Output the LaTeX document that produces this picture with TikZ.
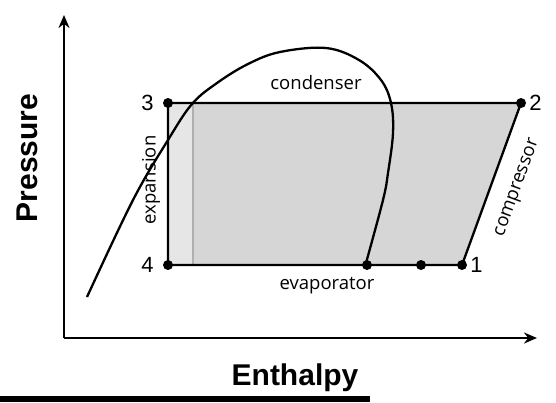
\documentclass[tikz,border=0pt]{standalone}
\usepackage{fontspec}
\usepackage{tikz}
\usepackage{xcolor}
\usetikzlibrary{arrows.meta,positioning}
\newfontfamily\labelfont{Open Sans}
\newfontfamily\axisfont{Liberation Sans}
\definecolor{cyclegray}{HTML}{D6D6D6}
\definecolor{stripgray}{HTML}{E6E6E6}
\definecolor{edgegray}{HTML}{B0B0B0}

\begin{document}
\begin{tikzpicture}[x=1pt, y=-1pt, node distance=4pt, >={Stealth[length=13pt,width=11pt]}]
\tikzstyle{dot}=[circle, fill=black, inner sep=0pt, minimum size=10pt]
\tikzstyle{num}=[inner sep=0pt, font=\axisfont\fontsize{22}{22}\selectfont]
\tikzstyle{lbl}=[inner sep=0pt, font=\labelfont\fontsize{18.5}{20}\selectfont]
\tikzstyle{axlbl}=[inner sep=0pt, font=\axisfont\bfseries\fontsize{30}{30}\selectfont]
\tikzstyle{cyc}=[line width=2.3pt, line join=round]
\useasboundingbox (0,0) rectangle (556,402);
\coordinate (o) at (64,338);
\coordinate (ytip) at (64,15);
\coordinate (xtip) at (537,338);
\coordinate (c3) at (168,103);
\coordinate (c2) at (521,103);
\coordinate (c1) at (462,265);
\coordinate (c4) at (168,265);
\coordinate (cl) at (367,265);
\coordinate (cv) at (421,265);
\fill[cyclegray] (c3) -- (c2) -- (c1) -- (c4) -- cycle;
\fill[stripgray] (c3) rectangle (193,265);
\draw[edgegray, line width=1.2pt] (193,103) -- (193,265);
\draw[->, line width=2.3pt] (o) -- (ytip);
\draw[->, line width=2.3pt] (o) -- (xtip);
\draw[cyc] (c3) -- (c2) -- (c1) -- (c4) -- cycle;
\draw[line width=2.3pt] plot[smooth, tension=0.6] coordinates {(87,297) (133,200) (168,140) (192,104) (217,83) (248,64) (280,52) (326,48) (359,60) (381,80) (391,103) (393,133) (388,173) (383,200) (366,263)};
\node[dot] (d3) at (c3) {};
\node[dot] (d2) at (c2) {};
\node[dot] (d1) at (c1) {};
\node[dot] (d4) at (c4) {};
\node[dot] (dl) at (cl) {};
\node[dot] (dv) at (cv) {};
\node[num, left=9pt of d3] {3};
\node[num, right=3pt of d2] {2};
\node[num, left=9pt of d4] {4};
\node[num, right=3pt of d1] {1};
\node[lbl] (cond) at (316,83) {condenser};
\node[lbl] (evap) at (327,286) {evaporator};
\node[lbl, rotate=90] (expn) at (151,180) {expansion};
\node[lbl, rotate=70] (comp) at (518,188) {compressor};
\node[axlbl, rotate=90] (pres) at (27,158) {Pressure};
\node[axlbl] (enth) at (295,378) {Enthalpy};
\fill (0,396) rectangle (370,402);
\end{tikzpicture}
\end{document}
